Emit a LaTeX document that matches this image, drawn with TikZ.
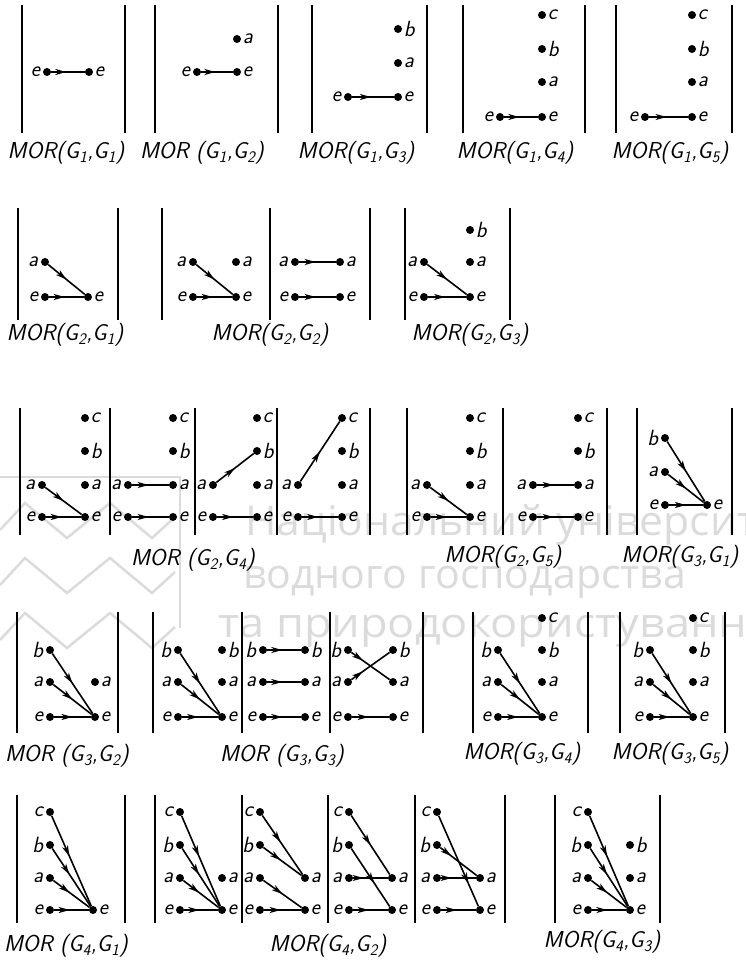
\documentclass[tikz,border=0pt]{standalone}
\usepackage{fontspec}
\usepackage{graphicx}
\newfontfamily\wmfont{Open Sans}
\usetikzlibrary{arrows.meta,decorations.markings}
\newcommand\lfont{\fontsize{22}{24}\selectfont\sffamily\itshape}
\newcommand\tfont{\fontsize{23}{26}\selectfont\sffamily\itshape}
\newcommand\Gs[1]{G\textsubscript{#1}}
\tikzset{
  pt/.style={circle,fill=black,inner sep=0pt,minimum size=8pt},
  lbl/.style={font=\lfont,inner sep=0.5pt},
  lp/.style={pt,label={[lbl,xshift=-2pt]left:#1}},
  rp/.style={pt,label={[lbl,xshift=1pt]right:#1}},
  mor/.style={line width=1.6pt,postaction={decorate},
    decoration={markings,mark=at position #1 with {\arrow{Stealth[length=11pt,width=6pt,inset=3pt]}}}},
  mor/.default=0.45,
  bar/.style={line width=2.5pt},
  mtitle/.style={font=\tfont,inner sep=0pt},
  wmline/.style={black!14,line width=2.5pt},
  wmtext/.style={black!14,font=\wmfont\fontsize{41}{46}\selectfont,anchor=base west,inner sep=0pt},
}
\begin{document}
\begin{tikzpicture}[x=1pt,y=-1pt]
\useasboundingbox (0,0) rectangle (745,960);
% ---------- watermark ----------
\begin{scope}
\clip (0,0) rectangle (745,960);
\draw[wmline] (0,477) -- (180,477) -- (180,628);
\draw[wmline] (0,530) -- (25,503) -- (67,538) -- (110,503) -- (152,538) -- (175,517);
\draw[wmline] (0,585) -- (25,558) -- (67,593) -- (110,558) -- (152,593) -- (175,572);
\draw[wmline] (0,640) -- (25,613) -- (67,648) -- (110,613) -- (152,648) -- (175,627);
\node[wmtext] (wm1) at (245,535) {\scalebox{1.04}[1]{Національний університет}};
\node[wmtext] (wm2) at (243,588) {водного господарства};
\node[wmtext] (wm3) at (218,637) {\scalebox{1.1}[1]{та природокористування}};
\end{scope}
% ---------- Row 1 ----------
\draw[bar] (22,5)--(22,133) (125,5)--(125,133);
\node[lp=e] (a1Le) at (47,72) {};
\node[rp=e] (a1Re) at (89,72) {};
\draw[mor] (a1Le)--(a1Re);
\node[mtitle] (ta1) at (66,153) {MOR(\Gs1,\Gs1)};

\draw[bar] (155,5)--(155,133) (278,5)--(278,133);
\node[lp=e] (a2Le) at (197,72) {};
\node[rp=e] (a2Re) at (237,72) {};
\node[rp=a] (a2Ra) at (237,39) {};
\draw[mor] (a2Le)--(a2Re);
\node[mtitle] (ta2) at (202,153) {MOR (\Gs1,\Gs2)};

\draw[bar] (312,5)--(312,133) (427,5)--(427,133);
\node[lp=e] (a3Le) at (348,97) {};
\node[rp=e] (a3Re) at (398,97) {};
\node[rp=a] (a3Ra) at (398,63) {};
\node[rp=b] (a3Rb) at (398,29) {};
\draw[mor] (a3Le)--(a3Re);
\node[mtitle] (ta3) at (356,153) {MOR(\Gs1,\Gs3)};

\draw[bar] (463,5)--(463,133) (585,5)--(585,133);
\node[lp=e] (a4Le) at (500,117) {};
\node[rp=e] (a4Re) at (542,117) {};
\node[rp=a] (a4Ra) at (542,82) {};
\node[rp=b] (a4Rb) at (542,49) {};
\node[rp=c] (a4Rc) at (542,15) {};
\draw[mor] (a4Le)--(a4Re);
\node[mtitle] (ta4) at (515,153) {MOR(\Gs1,\Gs4)};

\draw[bar] (616,5)--(616,133) (732,5)--(732,133);
\node[lp=e] (a5Le) at (645,117) {};
\node[rp=e] (a5Re) at (692,117) {};
\node[rp=a] (a5Ra) at (692,82) {};
\node[rp=b] (a5Rb) at (692,49) {};
\node[rp=c] (a5Rc) at (692,15) {};
\draw[mor] (a5Le)--(a5Re);
\node[mtitle] (ta5) at (670,153) {MOR(\Gs1,\Gs5)};

% ---------- Row 2 ----------
\draw[bar] (18,208)--(18,320) (118,208)--(118,320);
\node[lp=a] (b1La) at (45,262) {};
\node[lp=e] (b1Le) at (45,297) {};
\node[rp=e] (b1Re) at (88,297) {};
\draw[mor=0.5] (b1La)--(b1Re);
\draw[mor] (b1Le)--(b1Re);
\node[mtitle] (tb1) at (65,335) {MOR(\Gs2,\Gs1)};

\draw[bar] (162,208)--(162,320) (270,208)--(270,320) (370,208)--(370,320);
\node[lp=a] (b2La) at (193,262) {};
\node[lp=e] (b2Le) at (193,297) {};
\node[rp=a] (b2Ra) at (236,262) {};
\node[rp=e] (b2Re) at (236,297) {};
\draw[mor=0.5] (b2La)--(b2Re);
\draw[mor] (b2Le)--(b2Re);
\node[lp=a] (b3La) at (295,262) {};
\node[lp=e] (b3Le) at (295,297) {};
\node[rp=a] (b3Ra) at (340,262) {};
\node[rp=e] (b3Re) at (340,297) {};
\draw[mor] (b3La)--(b3Ra);
\draw[mor] (b3Le)--(b3Re);
\node[mtitle] (tb2) at (270,335) {MOR(\Gs2,\Gs2)};

\draw[bar] (405,208)--(405,320) (510,208)--(510,320);
\node[lp=a] (b4La) at (424,262) {};
\node[lp=e] (b4Le) at (424,297) {};
\node[rp=e] (b4Re) at (470,297) {};
\node[rp=a] (b4Ra) at (470,262) {};
\node[rp=b] (b4Rb) at (470,230) {};
\draw[mor=0.5] (b4La)--(b4Re);
\draw[mor] (b4Le)--(b4Re);
\node[mtitle] (tb3) at (470,335) {MOR(\Gs2,\Gs3)};

% ---------- Row 3 ----------
\foreach \x in {20,110,195,277,370,407,503,607} \draw[bar] (\x,408)--(\x,535);
\foreach \s/\l/\r in {1/42/85,2/128/173,3/213/257,4/298/342,5/427/470,6/533/578}{
  \node[lp=a] (c\s-La) at (\l,485) {};
  \node[lp=e] (c\s-Le) at (\l,517) {};
  \node[rp=c] (c\s-Rc) at (\r,418) {};
  \node[rp=b] (c\s-Rb) at (\r,451) {};
  \node[rp=a] (c\s-Ra) at (\r,485) {};
  \node[rp=e] (c\s-Re) at (\r,517) {};
  \draw[mor] (c\s-Le)--(c\s-Re);
}
\draw[mor=0.5] (c1-La)--(c1-Re);
\draw[mor] (c2-La)--(c2-Ra);
\draw[mor=0.5] (c3-La)--(c3-Rb);
\draw[mor=0.5] (c4-La)--(c4-Rc);
\draw[mor=0.5] (c5-La)--(c5-Re);
\draw[mor] (c6-La)--(c6-Ra);
\node[mtitle] (tc1) at (193,560) {MOR (\Gs2,\Gs4)};
\node[mtitle] (tc2) at (503,557) {MOR(\Gs2,\Gs5)};

\draw[bar] (637,408)--(637,535) (732,408)--(732,535);
\node[lp=b] (c7-Lb) at (665,438) {};
\node[lp=a] (c7-La) at (665,472) {};
\node[lp=e] (c7-Le) at (665,505) {};
\node[rp=e] (c7-Re) at (707,505) {};
\foreach \n in {b,a,e} \draw[mor=0.5] (c7-L\n)--(c7-Re);
\node[mtitle] (tc3) at (680,557) {MOR(\Gs3,\Gs1)};

% ---------- Row 4 ----------
\foreach \x in {17,118,153,242,330,423,473,588,620,725} \draw[bar] (\x,612)--(\x,733);
\node[lp=b] (d1-Lb) at (50,650) {};
\node[lp=a] (d1-La) at (50,682) {};
\node[lp=e] (d1-Le) at (50,717) {};
\node[rp=a] (d1-Ra) at (95,682) {};
\node[rp=e] (d1-Re) at (95,717) {};
\foreach \n in {b,a,e} \draw[mor=0.5] (d1-L\n)--(d1-Re);
\node[mtitle] (td1) at (67,756) {MOR (\Gs3,\Gs2)};

\foreach \s/\l/\r in {2/178/222,3/263/305,4/348/393}{
  \node[lp=b] (d\s-Lb) at (\l,650) {};
  \node[lp=a] (d\s-La) at (\l,682) {};
  \node[lp=e] (d\s-Le) at (\l,717) {};
  \node[rp=b] (d\s-Rb) at (\r,650) {};
  \node[rp=a] (d\s-Ra) at (\r,682) {};
  \node[rp=e] (d\s-Re) at (\r,717) {};
  \draw[mor] (d\s-Le)--(d\s-Re);
}
\draw[mor=0.5] (d2-Lb)--(d2-Re);
\draw[mor=0.5] (d2-La)--(d2-Re);
\draw[mor] (d3-Lb)--(d3-Rb);
\draw[mor] (d3-La)--(d3-Ra);
\draw[mor=0.3] (d4-Lb)--(d4-Ra);
\draw[mor=0.3] (d4-La)--(d4-Rb);
\node[mtitle] (td2) at (282,756) {MOR (\Gs3,\Gs3)};

\foreach \s/\l/\r in {5/498/542,6/650/693}{
  \node[lp=b] (d\s-Lb) at (\l,650) {};
  \node[lp=a] (d\s-La) at (\l,682) {};
  \node[lp=e] (d\s-Le) at (\l,717) {};
  \node[rp=c] (d\s-Rc) at (\r,618) {};
  \node[rp=b] (d\s-Rb) at (\r,650) {};
  \node[rp=a] (d\s-Ra) at (\r,682) {};
  \node[rp=e] (d\s-Re) at (\r,717) {};
  \draw[mor] (d\s-Le)--(d\s-Re);
  \draw[mor=0.5] (d\s-Lb)--(d\s-Re);
  \draw[mor=0.5] (d\s-La)--(d\s-Re);
}
\node[mtitle] (td3) at (522,754) {MOR(\Gs3,\Gs4)};
\node[mtitle] (td4) at (670,754) {MOR(\Gs3,\Gs5)};

% ---------- Row 5 ----------
\foreach \x in {17,125,155,242,328,415,505,555,660} \draw[bar] (\x,795)--(\x,923);
\node[lp=c] (e1-Lc) at (50,812) {};
\node[lp=b] (e1-Lb) at (50,845) {};
\node[lp=a] (e1-La) at (50,878) {};
\node[lp=e] (e1-Le) at (50,910) {};
\node[rp=e] (e1-Re) at (93,910) {};
\foreach \n in {c,b,a,e} \draw[mor] (e1-L\n)--(e1-Re);
\node[mtitle] (te1) at (66,946) {MOR (\Gs4,\Gs1)};

\foreach \s/\l/\r in {2/180/222,3/260/305,4/349/392,5/437/480}{
  \node[lp=c] (e\s-Lc) at (\l,812) {};
  \node[lp=b] (e\s-Lb) at (\l,845) {};
  \node[lp=a] (e\s-La) at (\l,878) {};
  \node[lp=e] (e\s-Le) at (\l,910) {};
  \node[rp=a] (e\s-Ra) at (\r,878) {};
  \node[rp=e] (e\s-Re) at (\r,910) {};
  \draw[mor] (e\s-Le)--(e\s-Re);
}
\foreach \n in {c,b,a} \draw[mor] (e2-L\n)--(e2-Re);
\draw[mor] (e3-Lc)--(e3-Ra);
\draw[mor] (e3-Lb)--(e3-Ra);
\draw[mor=0.5] (e3-La)--(e3-Re);
\draw[mor=0.5] (e4-Lc)--(e4-Ra);
\draw[mor=0.6] (e4-Lb)--(e4-Re);
\draw[mor=0.3] (e4-La)--(e4-Ra);
\draw[mor=0.75] (e5-Lc)--(e5-Re);
\draw[mor=0.3] (e5-Lb)--(e5-Ra);
\draw[mor=0.3] (e5-La)--(e5-Ra);
\node[mtitle] (te2) at (328,946) {MOR(\Gs4,\Gs2)};

\node[lp=c] (e6-Lc) at (588,812) {};
\node[lp=b] (e6-Lb) at (588,845) {};
\node[lp=a] (e6-La) at (588,878) {};
\node[lp=e] (e6-Le) at (588,910) {};
\node[rp=b] (e6-Rb) at (630,845) {};
\node[rp=a] (e6-Ra) at (630,878) {};
\node[rp=e] (e6-Re) at (630,910) {};
\foreach \n in {c,b,a,e} \draw[mor] (e6-L\n)--(e6-Re);
\node[mtitle] (te3) at (602,942) {MOR(\Gs4,\Gs3)};
\end{tikzpicture}
\end{document}
